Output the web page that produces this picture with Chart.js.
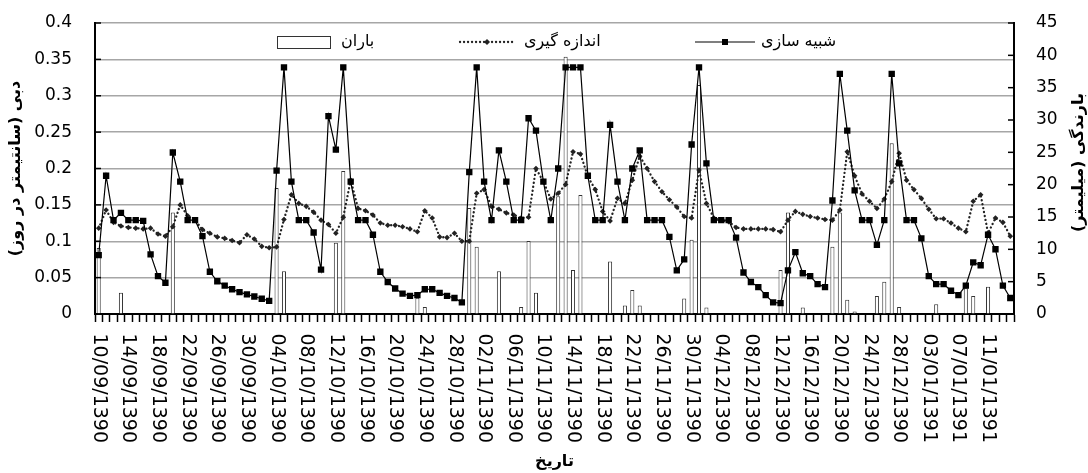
<!DOCTYPE html>
<html>
<head>
<meta charset="utf-8">
<script src="https://cdn.jsdelivr.net/npm/chart.js@4.4.1/dist/chart.umd.min.js"></script>
<style>
html,body{margin:0;padding:0;background:#fff;}
#wrap{width:1088px;height:473px;position:relative;}
canvas{display:block;}
</style>
</head>
<body>
<div id="wrap"><canvas id="c" width="1088" height="473" dir="rtl"></canvas></div>
<script>
// ---- categories: daily dates (Persian calendar) ----
const monthRuns = [[1390, 9, 10, 30], [1390, 10, 1, 30], [1390, 11, 1, 30], [1390, 12, 1, 29], [1391, 1, 1, 14]];
const dates = [];
monthRuns.forEach(([yr, mo, d0, d1]) => {
  for (let d = d0; d <= d1; d++) {
    dates.push(String(d).padStart(2, '0') + '/' + String(mo).padStart(2, '0') + '/' + yr);
  }
});
const labelEvery = 4;

// ---- series ----
const simulated = [
  0.081, 0.190, 0.129, 0.139, 0.129, 0.129, 0.128, 0.082, 0.052, 0.043,
  0.222, 0.182, 0.129, 0.129, 0.107, 0.058, 0.045, 0.039, 0.034, 0.030,
  0.027, 0.024, 0.021, 0.018, 0.197, 0.339, 0.182, 0.129, 0.129, 0.112,
  0.061, 0.272, 0.226, 0.339, 0.182, 0.129, 0.129, 0.109, 0.058, 0.044,
  0.035, 0.028, 0.025, 0.026, 0.034, 0.034, 0.029, 0.025, 0.022, 0.016,
  0.195, 0.339, 0.182, 0.129, 0.225, 0.182, 0.129, 0.129, 0.269, 0.252,
  0.182, 0.129, 0.200, 0.339, 0.339, 0.339, 0.190, 0.129, 0.129, 0.260,
  0.182, 0.129, 0.200, 0.225, 0.129, 0.129, 0.129, 0.106, 0.060, 0.075,
  0.233, 0.339, 0.207, 0.129, 0.129, 0.129, 0.105, 0.057, 0.044, 0.037,
  0.026, 0.016, 0.015, 0.060, 0.085, 0.056, 0.052, 0.041, 0.037, 0.156,
  0.330, 0.252, 0.170, 0.129, 0.129, 0.095, 0.129, 0.330, 0.207, 0.129,
  0.129, 0.104, 0.052, 0.041, 0.041, 0.032, 0.026, 0.039, 0.071, 0.067,
  0.109, 0.089, 0.039, 0.022
];
const measured = [
  0.118, 0.143, 0.126, 0.121, 0.119, 0.118, 0.117, 0.118, 0.110, 0.107,
  0.120, 0.150, 0.135, 0.129, 0.116, 0.111, 0.106, 0.104, 0.101, 0.098,
  0.109, 0.103, 0.093, 0.091, 0.092, 0.130, 0.164, 0.152, 0.148, 0.140,
  0.129, 0.123, 0.111, 0.133, 0.184, 0.145, 0.142, 0.136, 0.125, 0.122,
  0.122, 0.120, 0.117, 0.113, 0.142, 0.132, 0.106, 0.105, 0.111, 0.100,
  0.100, 0.166, 0.171, 0.148, 0.144, 0.139, 0.136, 0.132, 0.133, 0.200,
  0.182, 0.158, 0.166, 0.178, 0.223, 0.220, 0.189, 0.171, 0.141, 0.128,
  0.159, 0.152, 0.184, 0.217, 0.200, 0.182, 0.168, 0.157, 0.147, 0.134,
  0.132, 0.198, 0.152, 0.132, 0.129, 0.127, 0.119, 0.117, 0.117, 0.117,
  0.117, 0.116, 0.113, 0.129, 0.141, 0.137, 0.134, 0.132, 0.130, 0.129,
  0.143, 0.223, 0.190, 0.165, 0.155, 0.145, 0.158, 0.182, 0.221, 0.184,
  0.171, 0.159, 0.144, 0.131, 0.131, 0.125, 0.118, 0.113, 0.155, 0.164,
  0.111, 0.132, 0.126, 0.107
];
const rainfall = [
  10.2, 0, 0, 3.3, 0, 0, 0, 0, 0, 0,
  15.7, 0, 0, 0, 0, 0, 0, 0, 0, 0,
  0, 0, 0, 0, 19.5, 6.6, 0, 0, 0, 0,
  0, 0, 11.0, 22.1, 0, 0, 0, 0, 0, 0,
  0, 0, 0, 2.5, 1.1, 0, 0, 0, 0, 0,
  16.4, 10.4, 0, 0, 6.6, 0, 0, 1.1, 11.3, 3.3,
  0, 0, 18.2, 39.8, 6.8, 18.4, 0, 0, 0, 8.1,
  0, 1.3, 3.7, 1.3, 0, 0, 0, 0, 0, 2.4,
  11.5, 35.4, 1.0, 0, 0, 0, 0, 0, 0, 0,
  0, 0, 6.8, 15.7, 0, 1.0, 0, 0, 0, 10.4,
  15.7, 2.2, 0.4, 0, 0, 2.8, 5.0, 26.4, 1.1, 0,
  0, 0, 0, 1.5, 0, 0, 0, 4.0, 2.8, 0,
  4.2, 0, 0, 0
];

// ---- texts ----
const seriesNames = ['شبیه سازی', 'اندازه گیری', 'باران'];
const leftTitle = 'دبی (سانتیمتر در روز)';
const rightTitle = 'بارندگی (میلیمتر)';
const xTitle = 'تاریخ';

const FONT = '"DejaVu Sans", sans-serif';

const xLabelFontSize = 19;
const xLabelEndY = 443;
const dotDash = [0.1, 3.9];

const extras = {
  id: 'extras',
  beforeDraw(chart) { chart.ctx.direction = 'rtl'; },
  afterDraw(chart) {
    const ctx = chart.ctx;
    const a = chart.chartArea;
    const y = chart.scales.y, y2 = chart.scales.y2;
    ctx.save();
    ctx.direction = 'rtl';
    // inward ticks
    ctx.strokeStyle = '#000';
    ctx.lineWidth = 1.5;
    y.ticks.forEach(t => {
      const py = y.getPixelForValue(t.value);
      ctx.beginPath(); ctx.moveTo(a.left, py); ctx.lineTo(a.left + 6, py); ctx.stroke();
    });
    y2.ticks.forEach(t => {
      const py = y2.getPixelForValue(t.value);
      ctx.beginPath(); ctx.moveTo(a.right - 6, py); ctx.lineTo(a.right, py); ctx.stroke();
    });
    // right axis title
    ctx.save();
    ctx.translate(1079, (a.top + a.bottom) / 2 - 6);
    ctx.rotate(-Math.PI / 2);
    ctx.font = 'bold 16px ' + FONT;
    ctx.fillStyle = '#000';
    ctx.textAlign = 'center';
    ctx.textBaseline = 'middle';
    ctx.fillText(rightTitle, 0, 0);
    ctx.restore();
    // legend
    const ly = 42;
    ctx.font = '16px ' + FONT;
    ctx.textAlign = 'left';
    ctx.textBaseline = 'middle';
    // rain
    ctx.fillStyle = '#fff';
    ctx.fillRect(277, 36, 53, 12);
    ctx.strokeStyle = '#333'; ctx.lineWidth = 1;
    ctx.strokeRect(277.5, 36.5, 53, 12);
    ctx.fillStyle = '#000';
    ctx.fillText(seriesNames[2], 341, ly);
    // measured
    ctx.strokeStyle = '#222'; ctx.lineWidth = 2.3; ctx.lineCap = 'round';
    ctx.setLineDash(dotDash);
    ctx.beginPath(); ctx.moveTo(460, ly); ctx.lineTo(514, ly); ctx.stroke();
    ctx.setLineDash([]);
    ctx.fillStyle = '#222';
    ctx.beginPath(); ctx.moveTo(487, ly - 3); ctx.lineTo(490, ly); ctx.lineTo(487, ly + 3); ctx.lineTo(484, ly); ctx.closePath(); ctx.fill();
    ctx.fillStyle = '#000';
    ctx.fillText(seriesNames[1], 524, ly);
    // simulated
    ctx.strokeStyle = '#000'; ctx.lineWidth = 1.2; ctx.lineCap = 'butt';
    ctx.beginPath(); ctx.moveTo(695, ly); ctx.lineTo(755, ly); ctx.stroke();
    ctx.fillRect(722, ly - 3, 6, 6);
    ctx.fillText(seriesNames[0], 761, ly);
    ctx.restore();
  }
};

new Chart(document.getElementById('c'), {
  type: 'bar',
  data: {
    labels: dates,
    datasets: [
      {
        type: 'line', label: seriesNames[0], data: simulated, yAxisID: 'y',
        borderColor: '#000', borderWidth: 1.2, tension: 0,
        pointStyle: 'rect', pointRadius: 4.5, pointBackgroundColor: '#000',
        pointBorderColor: '#000', pointBorderWidth: 0, order: 1
      },
      {
        type: 'line', label: seriesNames[1], data: measured, yAxisID: 'y',
        borderColor: '#222', borderWidth: 2.3, borderDash: dotDash, borderCapStyle: 'round',
        tension: 0, pointStyle: 'rectRot', pointRadius: 2.8, pointBackgroundColor: '#222',
        pointBorderWidth: 0, order: 2
      },
      {
        type: 'bar', label: seriesNames[2], data: rainfall, yAxisID: 'y2',
        backgroundColor: '#fff', borderColor: '#333', borderWidth: 1,
        barPercentage: 0.55, categoryPercentage: 1, order: 3
      }
    ]
  },
  options: {
    responsive: false,
    animation: false,
    devicePixelRatio: 1,
    layout: { padding: { top: 23, left: 0, right: 0, bottom: 0 } },
    plugins: { legend: { display: false }, tooltip: { enabled: false } },
    scales: {
      x: {
        type: 'category',
        offset: true,
        grid: { display: true, drawOnChartArea: false, drawTicks: true, tickLength: 8, tickColor: '#000', tickWidth: 1.5, offset: true },
        border: { display: true, color: '#000', width: 2 },
        ticks: {
          autoSkip: false, minRotation: -90, maxRotation: -90,
          padding: xLabelEndY - 314 - 8,
          font: { family: FONT, size: xLabelFontSize }, color: '#000',
          callback: function (v, i) { return i % labelEvery === 0 ? dates[i] : ''; }
        },
        title: { display: true, text: xTitle, font: { family: FONT, size: 16, weight: 'bold' }, color: '#000', padding: { top: 0, bottom: 2 } },
        afterFit(s) { s.height = 159; s.paddingLeft = 0; s.paddingRight = 0; s.paddingTop = 0; s.paddingBottom = 0; }
      },
      y: {
        position: 'left', min: 0, max: 0.4,
        ticks: { stepSize: 0.05, padding: 23, font: { family: FONT, size: 17 }, color: '#000',
          callback: v => String(Number(v.toFixed(2))) },
        grid: { color: '#a6a6a6', lineWidth: 1.5, drawTicks: false },
        border: { display: true, color: '#000', width: 2 },
        title: { display: true, text: leftTitle, font: { family: FONT, size: 16, weight: 'bold' }, color: '#000', padding: { top: 6, bottom: 0 } },
        afterFit(s) { s.width = 95; s.paddingTop = 0; s.paddingBottom = 0; }
      },
      y2: {
        position: 'right', min: 0, max: 45,
        ticks: { stepSize: 5, padding: 22, font: { family: FONT, size: 17 }, color: '#000' },
        grid: { drawOnChartArea: false, drawTicks: false },
        border: { display: true, color: '#000', width: 2 },
        afterFit(s) { s.width = 74; s.paddingTop = 0; s.paddingBottom = 0; }
      }
    }
  },
  plugins: [extras]
});
</script>
</body>
</html>
